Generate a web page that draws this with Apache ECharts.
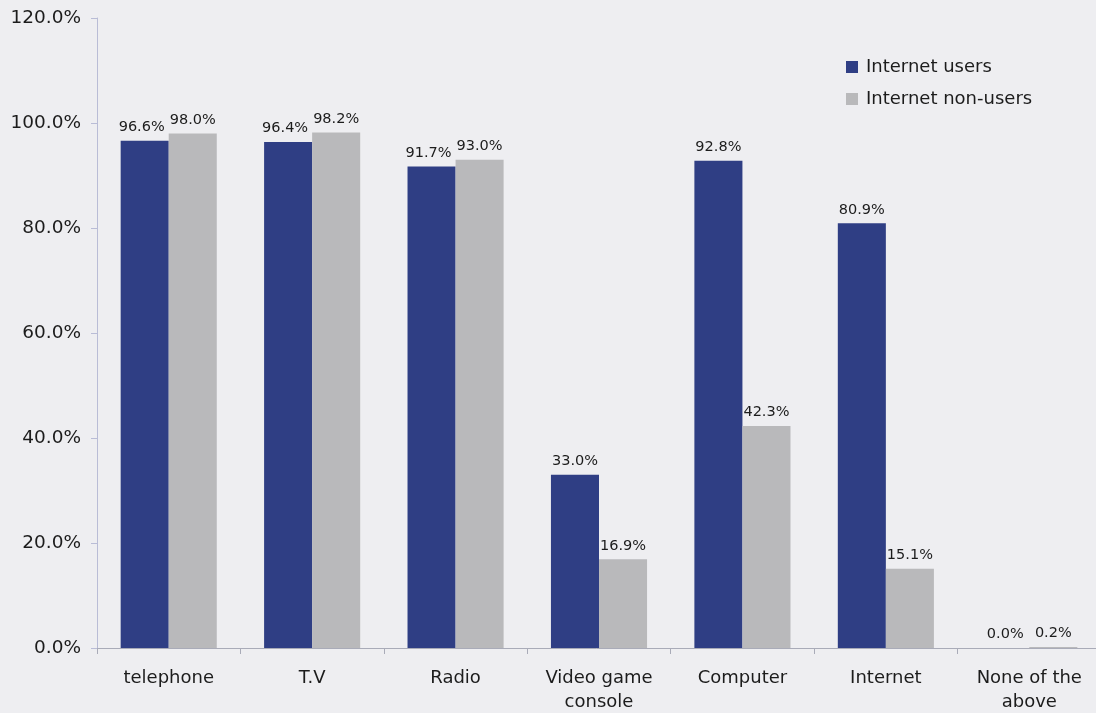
<!DOCTYPE html>
<html>
<head>
<meta charset="utf-8">
<script src="https://cdn.jsdelivr.net/npm/echarts@6/dist/echarts.min.js"></script>
<style>
  html, body { margin: 0; padding: 0; background: #eeeef1; }
  #chart { width: 1096px; height: 713px; }
</style>
</head>
<body>
<div id="chart"></div>
<script>
// Device ownership by internet use
const categories = ['telephone', 'T.V', 'Radio', 'Video game\nconsole', 'Computer', 'Internet', 'None of the\nabove'];
const internetUsers = [96.6, 96.4, 91.7, 33.0, 92.8, 80.9, 0.0];
const internetNonUsers = [98.0, 98.2, 93.0, 16.9, 42.3, 15.1, 0.2];
const yTicks = [0, 20, 40, 60, 80, 100, 120];

const FONT = "'DejaVu Sans', Verdana, sans-serif";

const chart = echarts.init(document.getElementById('chart'));

const labelStyle = {
  show: true,
  position: 'top',
  distance: 6,
  color: '#1c1c1c',
  fontFamily: FONT,
  fontSize: 14.5,
  formatter: p => p.value.toFixed(1) + '%'
};

// Where a pair of labels would collide, nudge the left one a little aside.
const usersData = internetUsers.map((v, i) =>
  (internetNonUsers[i] > v && v > 90) ? { value: v, label: { offset: [-3, 0] } } : v);

chart.setOption({
  backgroundColor: '#eeeef1',
  animation: false,
  grid: { left: 97, right: -5, top: 18, bottom: 65, containLabel: false, outerBoundsMode: 'none' },
  legend: {
    orient: 'vertical',
    left: 841,
    top: 53,
    itemWidth: 12,
    itemHeight: 12,
    itemGap: 14,
    icon: 'rect',
    textStyle: { fontFamily: FONT, fontSize: 18, color: '#1c1c1c', padding: [0, 0, 0, 3] },
    data: ['Internet users', 'Internet non-users']
  },
  xAxis: {
    type: 'category',
    data: categories,
    axisLine: { lineStyle: { color: '#a9abb8' } },
    axisTick: { show: true, alignWithLabel: false, length: 6, lineStyle: { color: '#a9abb8' } },
    axisLabel: { fontFamily: FONT, fontSize: 18, color: '#1c1c1c', margin: 18, lineHeight: 24, interval: 0 }
  },
  yAxis: {
    type: 'value',
    min: 0,
    max: 120,
    interval: 20,
    axisLine: { show: true, lineStyle: { color: '#b9bcd6' } },
    axisTick: { show: true, length: 6, lineStyle: { color: '#b9bcd6' } },
    splitLine: { show: false },
    axisLabel: {
      fontFamily: FONT, fontSize: 18.5, color: '#1c1c1c', margin: 16,
      formatter: v => yTicks.includes(v) ? v.toFixed(1) + '%' : ''
    }
  },
  series: [
    {
      name: 'Internet users',
      type: 'bar',
      data: usersData,
      barGap: '0%',
      barCategoryGap: '33%',
      itemStyle: { color: '#2f3e84' },
      label: labelStyle
    },
    {
      name: 'Internet non-users',
      type: 'bar',
      data: internetNonUsers,
      itemStyle: { color: '#b9b9bb' },
      label: labelStyle
    }
  ]
});
</script>
</body>
</html>
